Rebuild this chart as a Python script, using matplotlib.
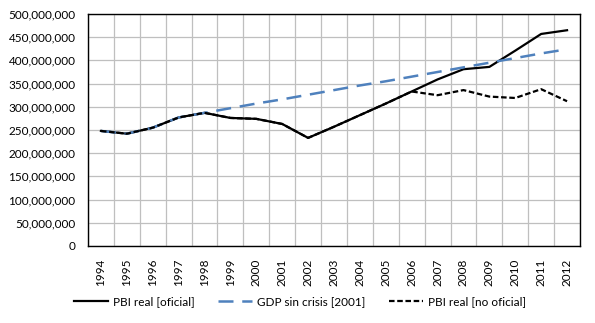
import numpy as np
import matplotlib
matplotlib.use('Agg')
import matplotlib.pyplot as plt
from matplotlib.ticker import FuncFormatter, MultipleLocator

plt.rcParams['font.family'] = ['Lato', 'DejaVu Sans']

years = list(range(1994, 2013))
# real GDP, official series
pbi_oficial = [248e6, 242e6, 255e6, 277e6, 287e6, 276e6, 274e6, 263e6, 233e6, 257e6,
               282e6, 307e6, 333e6, 359e6, 381e6, 386e6, 421e6, 457e6, 465e6]
# trend without the 2001 crisis
gdp_sin_crisis = [248e6, 242e6, 255e6, 277e6, 287e6, 297e6, 307e6, 316e6, 326e6, 336e6,
                  346e6, 355e6, 365e6, 375e6, 385e6, 395e6, 405e6, 415e6, 424e6]
# real GDP, unofficial estimate
pbi_no_oficial = [248e6, 242e6, 255e6, 277e6, 287e6, 276e6, 274e6, 263e6, 233e6, 257e6,
                  282e6, 307e6, 333e6, 325e6, 336e6, 322e6, 319e6, 338e6, 312e6]

fig = plt.figure(figsize=(5.95, 3.23), dpi=100)
ax = fig.add_axes([88/595, 1-246/323, 492/595, 232/323])

x = np.arange(len(years))
ax.plot(x, pbi_oficial, color='black', lw=1.6, label='PBI real [oficial]', zorder=3)
ax.plot(x, gdp_sin_crisis, color='#4F81BD', lw=1.8, dashes=(6, 3.5),
        label='GDP sin crisis [2001]', zorder=4)
ax.plot(x, pbi_no_oficial, color='black', lw=1.6, dashes=(2.5, 1.2),
        label='PBI real [no oficial]', zorder=5)

ax.set_xlim(-0.5, len(years) - 0.5)
ax.set_ylim(0, 500e6)
ax.yaxis.set_major_locator(MultipleLocator(50e6))
ax.yaxis.set_major_formatter(FuncFormatter(lambda v, p: f'{int(v):,}'))
ax.set_xticks(x)
ax.set_xticklabels([str(y) for y in years], rotation=90)
ax.set_xticks(np.arange(-0.5, len(years)), minor=True)
ax.tick_params(axis='x', which='major', length=0, pad=9, labelsize=8.5)
ax.tick_params(axis='x', which='minor', length=0)
ax.tick_params(axis='y', length=0, pad=9, labelsize=8.5)
ax.grid(True, which='minor', axis='x', color='#BFBFBF', lw=0.9)
ax.grid(True, which='major', axis='y', color='#BFBFBF', lw=0.9)
for s in ax.spines.values():
    s.set_color('black')
    s.set_linewidth(1.0)

fig.legend(loc='center', bbox_to_anchor=(300/595, 1-302/323), ncol=3, frameon=False,
           fontsize=8.5, handlelength=2.9, columnspacing=2.0, handletextpad=0.4)

fig.savefig('out.png', dpi=100)
